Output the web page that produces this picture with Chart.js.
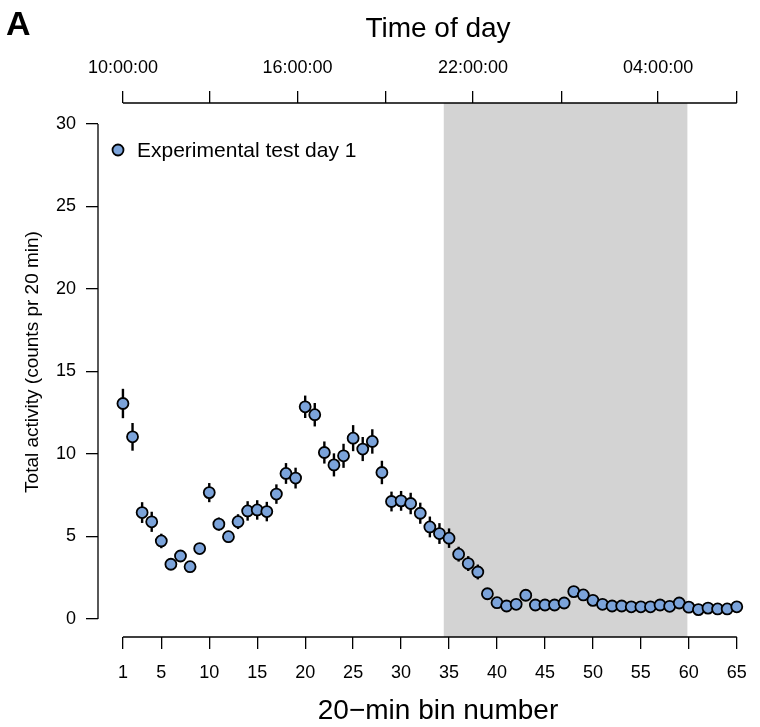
<!DOCTYPE html>
<html>
<head>
<meta charset="utf-8">
<title>Total activity per 20-min bin</title>
<script src="https://cdn.jsdelivr.net/npm/chart.js@4"></script>
<style>
    html, body { margin: 0; padding: 0; background: #ffffff; }
    #wrap { width: 760px; height: 727px; position: relative; }
</style>
</head>
<body>
<div id="wrap"><canvas id="activityChart"></canvas></div>
<script>
// 20-min bins
const bins = [1, 2, 3, 4, 5, 6, 7, 8, 9, 10, 11, 12, 13, 14, 15, 16, 17, 18, 19, 20,
    21, 22, 23, 24, 25, 26, 27, 28, 29, 30, 31, 32, 33, 34, 35, 36, 37, 38, 39, 40,
    41, 42, 43, 44, 45, 46, 47, 48, 49, 50, 51, 52, 53, 54, 55, 56, 57, 58, 59, 60,
    61, 62, 63, 64, 65];

// mean total activity (counts pr 20 min)
const activity = [13.06, 11.04, 6.45, 5.89, 4.73, 3.32, 3.82, 3.17, 4.27, 7.66,
    5.75, 4.99, 5.9, 6.55, 6.61, 6.51, 7.57, 8.82, 8.54, 12.86,
    12.38, 10.09, 9.34, 9.89, 10.96, 10.3, 10.76, 8.88, 7.12, 7.16,
    7.0, 6.41, 5.58, 5.18, 4.9, 3.93, 3.36, 2.85, 1.53, 0.99,
    0.79, 0.89, 1.44, 0.85, 0.85, 0.85, 0.97, 1.66, 1.46, 1.13,
    0.89, 0.79, 0.79, 0.74, 0.74, 0.74, 0.85, 0.77, 0.97, 0.72,
    0.57, 0.66, 0.61, 0.61, 0.74];

// error bar half-lengths
const activityErr = [0.89, 0.84, 0.63, 0.61, 0.44, 0.3, 0.3, 0.3, 0.3, 0.58,
    0.4, 0.35, 0.45, 0.59, 0.59, 0.59, 0.59, 0.63, 0.63, 0.68,
    0.71, 0.67, 0.7, 0.73, 0.79, 0.73, 0.74, 0.71, 0.6, 0.6,
    0.65, 0.64, 0.63, 0.63, 0.59, 0.45, 0.45, 0.45, 0.25, 0.25,
    0.25, 0.25, 0.25, 0.25, 0.25, 0.25, 0.25, 0.3, 0.3, 0.25,
    0.25, 0.2, 0.2, 0.2, 0.2, 0.2, 0.2, 0.2, 0.2, 0.2,
    0.2, 0.2, 0.2, 0.2, 0.2];

const binTicks = [1, 5, 10, 15, 20, 25, 30, 35, 40, 45, 50, 55, 60, 65];
const yTicks = [0, 5, 10, 15, 20, 25, 30];
const timeTickBins = [1, 10, 19.2, 28.4, 37.5, 46.7, 56.8, 65];
const timeTickLabels = ['10:00:00', '', '16:00:00', '', '22:00:00', '', '04:00:00', ''];
const darkPeriod = [34.45, 59.85];

const seriesLabel = 'Experimental test day 1';
const pointFill = '#7BA3DA';
const FONT = '"Liberation Sans", Arial, Helvetica, sans-serif';

// grey night shading + error bars, behind the points
const backdropPlugin = {
    id: 'backdrop',
    beforeDatasetsDraw(chart) {
        const { ctx, chartArea, scales } = chart;
        const x = scales.x, y = scales.y;
        ctx.save();
        ctx.fillStyle = '#D3D3D3';
        const x0 = x.getPixelForValue(darkPeriod[0]);
        const x1 = x.getPixelForValue(darkPeriod[1]);
        ctx.fillRect(x0, chartArea.top, x1 - x0, chartArea.bottom - chartArea.top);

        ctx.strokeStyle = '#000';
        ctx.lineWidth = 2.4;
        bins.forEach((b, i) => {
            const px = x.getPixelForValue(b);
            ctx.beginPath();
            ctx.moveTo(px, y.getPixelForValue(activity[i] - activityErr[i]));
            ctx.lineTo(px, y.getPixelForValue(activity[i] + activityErr[i]));
            ctx.stroke();
        });
        ctx.restore();
    }
};

// R style axis lines, titles and legend
const decorPlugin = {
    id: 'decor',
    afterDraw(chart) {
        const { ctx, chartArea, scales } = chart;
        const x = scales.x, y = scales.y;
        ctx.save();
        ctx.strokeStyle = '#000';
        ctx.lineWidth = 1.3;
        ctx.beginPath();
        ctx.moveTo(x.getPixelForValue(binTicks[0]), chartArea.bottom);
        ctx.lineTo(x.getPixelForValue(binTicks[binTicks.length - 1]), chartArea.bottom);
        ctx.moveTo(x.getPixelForValue(timeTickBins[0]), chartArea.top);
        ctx.lineTo(x.getPixelForValue(timeTickBins[timeTickBins.length - 1]), chartArea.top);
        ctx.moveTo(chartArea.left, y.getPixelForValue(yTicks[0]));
        ctx.lineTo(chartArea.left, y.getPixelForValue(yTicks[yTicks.length - 1]));
        ctx.stroke();

        ctx.fillStyle = '#000';
        ctx.textAlign = 'center';
        ctx.textBaseline = 'middle';
        ctx.font = '28px ' + FONT;
        ctx.fillText('Time of day', 438, 29);
        ctx.fillText('20\u2212min bin number', 438, 711);

        ctx.font = 'bold 34px ' + FONT;
        ctx.textAlign = 'left';
        ctx.fillText('A', 6, 26);

        ctx.save();
        ctx.translate(33, 362);
        ctx.rotate(-Math.PI / 2);
        ctx.textAlign = 'center';
        ctx.font = '19px ' + FONT;
        ctx.fillText('Total activity (counts pr 20 min)', 0, 0);
        ctx.restore();

        // legend
        ctx.beginPath();
        ctx.arc(118, 150, 5.5, 0, Math.PI * 2);
        ctx.fillStyle = pointFill;
        ctx.fill();
        ctx.lineWidth = 1.8;
        ctx.stroke();
        ctx.fillStyle = '#000';
        ctx.textAlign = 'left';
        ctx.font = '21px ' + FONT;
        ctx.fillText(seriesLabel, 137, 151);
        ctx.restore();
    }
};

const tickGrid = {
    display: true,
    drawOnChartArea: false,
    drawTicks: true,
    tickLength: 12,
    color: '#000',
    lineWidth: 1.3
};

new Chart(document.getElementById('activityChart'), {
    type: 'scatter',
    data: {
        datasets: [{
            label: seriesLabel,
            data: bins.map((b, i) => ({ x: b, y: activity[i] })),
            backgroundColor: pointFill,
            borderColor: '#000',
            pointRadius: 5.5,
            pointBorderWidth: 1.8,
            pointHoverRadius: 5.5
        }]
    },
    options: {
        responsive: true,
        maintainAspectRatio: false,
        animation: false,
        layout: { padding: 0 },
        plugins: {
            legend: { display: false },
            tooltip: { enabled: false }
        },
        scales: {
            x: {
                type: 'linear',
                position: 'bottom',
                min: -1.6,
                max: 66.33,
                afterBuildTicks: s => { s.ticks = binTicks.map(v => ({ value: v })); },
                afterFit: s => { s.height = 90; },
                grid: tickGrid,
                border: { display: false },
                ticks: {
                    autoSkip: false,
                    maxRotation: 0,
                    padding: 13,
                    color: '#000',
                    font: { family: FONT, size: 18 }
                }
            },
            x2: {
                type: 'linear',
                position: 'top',
                min: -1.6,
                max: 66.33,
                afterBuildTicks: s => { s.ticks = timeTickBins.map(v => ({ value: v })); },
                afterFit: s => { s.height = 103; },
                grid: tickGrid,
                border: { display: false },
                ticks: {
                    autoSkip: false,
                    maxRotation: 0,
                    padding: 12,
                    color: '#000',
                    font: { family: FONT, size: 18 },
                    callback: (v, i) => timeTickLabels[i]
                }
            },
            y: {
                type: 'linear',
                min: -1.09,
                max: 31.27,
                afterBuildTicks: s => { s.ticks = yTicks.map(v => ({ value: v })); },
                afterFit: s => { s.width = 98; },
                grid: tickGrid,
                border: { display: false },
                ticks: {
                    padding: 10,
                    color: '#000',
                    font: { family: FONT, size: 18 }
                }
            }
        }
    },
    plugins: [backdropPlugin, decorPlugin]
});
</script>
</body>
</html>
